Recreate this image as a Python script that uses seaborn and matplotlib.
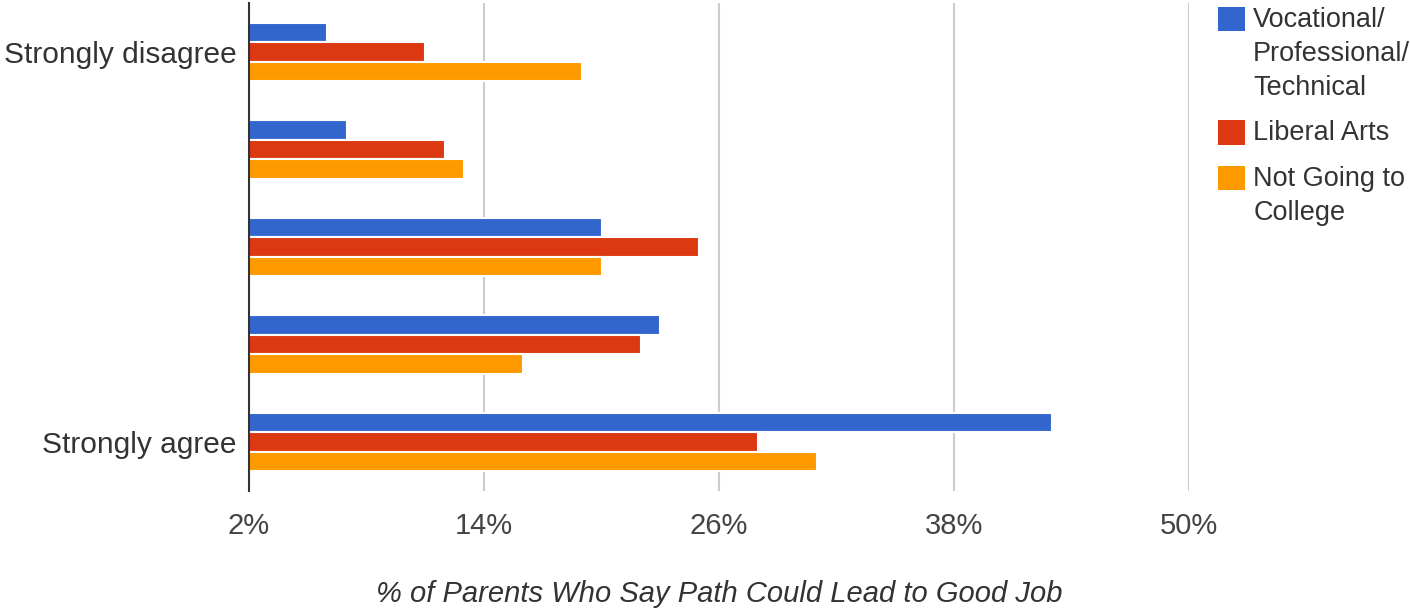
import matplotlib
matplotlib.use("Agg")
import matplotlib.pyplot as plt
import seaborn as sns
import pandas as pd
from matplotlib.ticker import FixedLocator, FuncFormatter

categories = ["Strongly disagree", "2", "3", "4", "Strongly agree"]
tick_labels = ["Strongly disagree", "", "", "", "Strongly agree"]
series = ["Vocational/\nProfessional/\nTechnical", "Liberal Arts", "Not Going to\nCollege"]
vocational = [6, 7, 20, 23, 43]
liberal_arts = [11, 12, 25, 22, 28]
not_college = [19, 13, 20, 16, 31]
x_ticks = [2, 14, 26, 38, 50]
colors = ["#3366CC", "#DC3912", "#FF9900"]

rows = []
for s, vals in zip(series, [vocational, liberal_arts, not_college]):
    for c, v in zip(categories, vals):
        rows.append({"category": c, "series": s, "value": v})
df = pd.DataFrame(rows)

sns.set_style("white")
plt.rcParams["font.family"] = ["Liberation Sans", "DejaVu Sans"]

fig = plt.figure(figsize=(14.1, 6.09), dpi=100)
ax = fig.add_axes([249 / 1410, 1 - 491 / 609, (1189 - 249) / 1410, (491 - 3) / 609])

sns.barplot(data=df, y="category", x="value", hue="series", order=categories,
            hue_order=series, palette=colors, saturation=1, orient="h", width=0.6,
            edgecolor="white", linewidth=1.5, ax=ax, legend=True, zorder=3)

ax.set_xlim(2, 50)
ax.set_ylim(4.5, -0.5)
ax.xaxis.set_major_locator(FixedLocator(x_ticks))
ax.xaxis.set_major_formatter(FuncFormatter(lambda v, p: f"{v:.0f}%"))
ax.set_yticks(range(len(categories)))
ax.set_yticklabels(tick_labels)

ax.grid(axis="x", color="#cccccc", linewidth=1.5, zorder=0)
ax.grid(axis="y", visible=False)
for side in ["top", "right", "bottom"]:
    ax.spines[side].set_visible(False)
ax.spines["left"].set_color("#333333")
ax.spines["left"].set_linewidth(1.5)
ax.spines["left"].set_zorder(5)

ax.tick_params(axis="x", length=0, pad=15, labelsize=21, labelcolor="#444444")
ax.tick_params(axis="y", length=0, pad=9, labelsize=21.5, labelcolor="#333333")
ax.set_ylabel("")
ax.set_xlabel("% of Parents Who Say Path Could Lead to Good Job", fontsize=21,
              style="italic", color="#333333", labelpad=29)

handles, labels = ax.get_legend_handles_labels()
ax.get_legend().remove()
leg = fig.legend(handles, labels, loc="upper left",
                 bbox_to_anchor=(1218 / 1410, 1 - 7 / 609), frameon=False,
                 fontsize=19.5, handlelength=1.0, handleheight=1.0,
                 handletextpad=0.3, labelspacing=0.72, borderpad=0,
                 borderaxespad=0, labelcolor="#333333")
for patch in leg.get_patches():
    patch.set_edgecolor("none")
for t in leg.get_texts():
    t.set_linespacing(1.4)
try:
    for col in leg._legend_handle_box.get_children():
        for row in col.get_children():
            row.align = "top"
except Exception:
    pass

fig.savefig("out.png", dpi=100)
